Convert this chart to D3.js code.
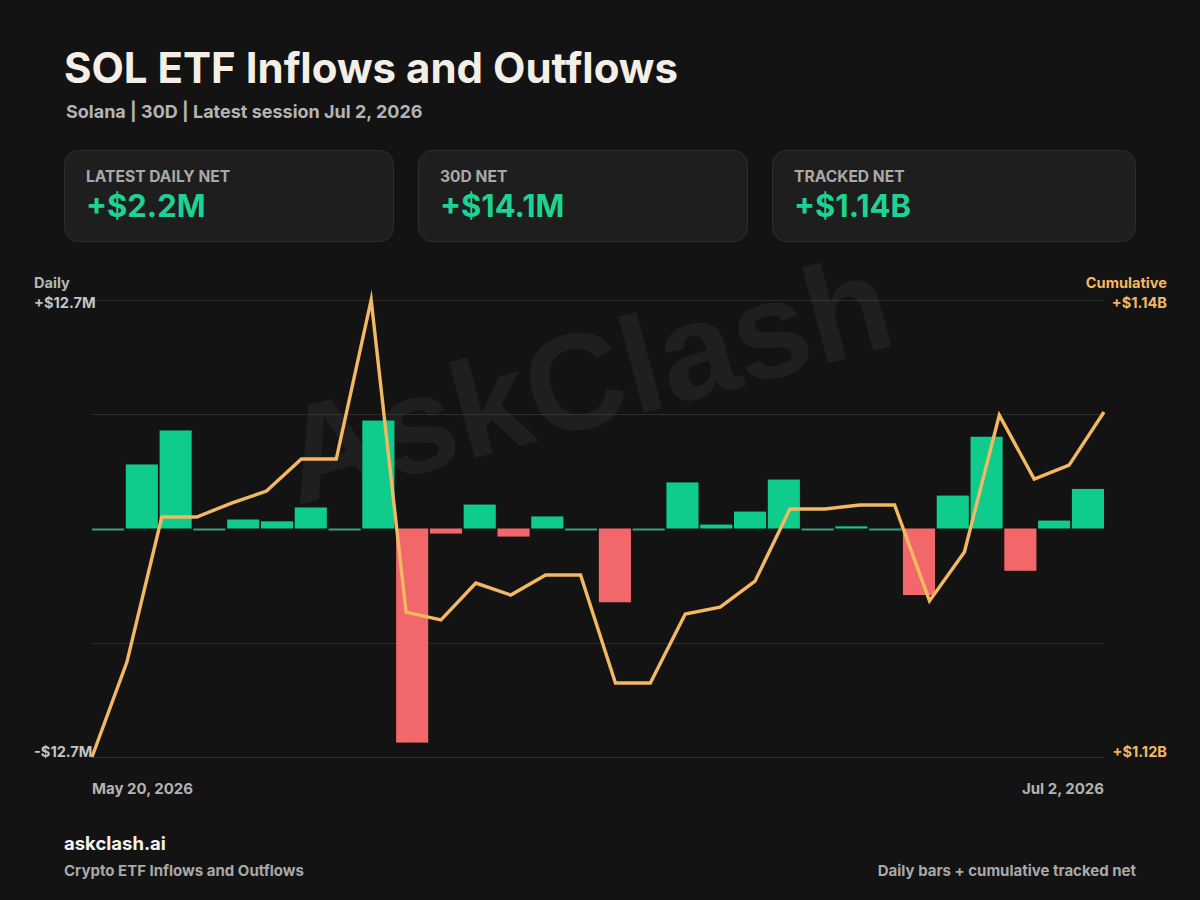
<!DOCTYPE html>
<html>
<head>
<meta charset="utf-8">
<script src="https://cdn.jsdelivr.net/npm/d3@7"></script>
<style>
  html, body { margin: 0; padding: 0; background: #131313; }
  svg { display: block; }
  text { font-family: Inter, "Noto Sans", sans-serif; font-weight: 700; }
</style>
</head>
<body>
<svg id="chart" width="1200" height="900"></svg>
<script>
// ---- Data ----
const sessions = [
  "2026-05-20","2026-05-21","2026-05-22","2026-05-26","2026-05-27","2026-05-28","2026-05-29",
  "2026-06-01","2026-06-02","2026-06-03","2026-06-04","2026-06-05",
  "2026-06-08","2026-06-09","2026-06-10","2026-06-11","2026-06-12",
  "2026-06-15","2026-06-16","2026-06-17","2026-06-18",
  "2026-06-22","2026-06-23","2026-06-24","2026-06-25","2026-06-26",
  "2026-06-29","2026-06-30","2026-07-01","2026-07-02"
];
// daily net flow, $M
const dailyNet = [
  0.05, 3.56, 5.45, 0.05, 0.5, 0.4, 1.17, 0.05, 6.0, -11.9,
  -0.28, 1.33, -0.45, 0.67, 0.05, -4.1, 0.05, 2.56, 0.22, 0.94,
  2.72, -0.05, 0.12, 0.05, -3.7, 1.83, 5.1, -2.35, 0.44, 2.2
];
// cumulative tracked net, $M
const cumulativeNet = [
  1123.0, 1126.55, 1131.98, 1131.98, 1132.5, 1132.95, 1134.15, 1134.15, 1140.1, 1128.42,
  1128.13, 1129.51, 1129.06, 1129.81, 1129.81, 1125.77, 1125.77, 1128.35, 1128.61, 1129.58,
  1132.28, 1132.28, 1132.43, 1132.43, 1128.84, 1130.67, 1135.79, 1133.4, 1133.92, 1135.91
];
const dailyDomain = [-12.7, 12.7];
const dailyTickLabels = ["+$12.7M", "-$12.7M"];
const cumTickLabels = ["+$1.14B", "+$1.12B"];
const xTickLabels = ["May 20, 2026", "Jul 2, 2026"];
const cardLabels = ["LATEST DAILY NET", "30D NET", "TRACKED NET"];
const cardValues = ["+$2.2M", "+$14.1M", "+$1.14B"];

// ---- Layout ----
const svg = d3.select("#chart");
const W = 1200, H = 900;
const plot = { left: 92, right: 1104, top: 300, bottom: 757 };

svg.append("rect").attr("width", W).attr("height", H).attr("fill", "#131313");

// Title & subtitle
svg.append("text").attr("x", 64).attr("y", 83)
  .attr("font-size", 42).attr("fill", "#f4efe6")
  .text("SOL ETF Inflows and Outflows");
svg.append("text").attr("x", 66).attr("y", 118)
  .attr("font-size", 18).attr("fill", "#b4b4b4")
  .text("Solana | 30D | Latest session Jul 2, 2026");

// Cards
const cards = [
  { x: 64, w: 330 }, { x: 418, w: 330 }, { x: 772, w: 364 }
];
const cg = svg.append("g");
cards.forEach((c, i) => {
  cg.append("rect").attr("x", c.x + 0.5).attr("y", 150.5).attr("width", c.w - 1).attr("height", 91)
    .attr("rx", 14).attr("fill", "#1e1e1e").attr("stroke", "#2e2e2e").attr("stroke-width", 1);
  cg.append("text").attr("x", c.x + 22).attr("y", 182)
    .attr("font-size", 15.6).attr("fill", "#a9a9a9").text(cardLabels[i]);
  cg.append("text").attr("x", c.x + 22).attr("y", 217)
    .attr("font-size", 31).attr("fill", "#1ed391").text(cardValues[i]);
});

// Scales
const xBand = d3.scaleBand().domain(sessions).range([plot.left, plot.right]).paddingInner(0.05).paddingOuter(0);
const xPoint = d3.scalePoint().domain(sessions).range([plot.left, plot.right]);
const yDaily = d3.scaleLinear().domain(dailyDomain).range([plot.bottom, plot.top]);
const yCum = d3.scaleLinear().domain(d3.extent(cumulativeNet)).range([plot.bottom, plot.top]);

// Gridlines
const gridLevels = [dailyDomain[1], dailyDomain[1] / 2, dailyDomain[0] / 2, dailyDomain[0]];
svg.append("g").selectAll("line").data(gridLevels).join("line")
  .attr("x1", plot.left).attr("x2", plot.right)
  .attr("y1", d => Math.round(yDaily(d)) + 0.5).attr("y2", d => Math.round(yDaily(d)) + 0.5)
  .attr("stroke", "#2c2c2c").attr("stroke-width", 1);

// Watermark
svg.append("text")
  .attr("transform", "translate(598,425) rotate(-15)")
  .attr("text-anchor", "middle")
  .attr("font-size", 137)
  .attr("fill", "#ffffff").attr("fill-opacity", 0.05)
  .style("font-family", "'Liberation Sans', Arial, sans-serif")
  .text("AskClash");

// Bars
const y0 = yDaily(0);
svg.append("g").selectAll("rect").data(sessions).join("rect")
  .attr("x", d => xBand(d))
  .attr("width", xBand.bandwidth())
  .attr("y", (d, i) => {
    const v = dailyNet[i];
    const h = Math.abs(yDaily(v) - y0);
    if (h < 2) return y0;
    return v >= 0 ? yDaily(v) : y0;
  })
  .attr("height", (d, i) => Math.max(2, Math.abs(yDaily(dailyNet[i]) - y0)))
  .attr("fill", (d, i) => {
    const v = dailyNet[i];
    if (Math.abs(yDaily(v) - y0) < 2) return "#3a9e83";
    return v >= 0 ? "#0fcb8c" : "#f2686a";
  });

// Cumulative line
const line = d3.line().x((d, i) => xPoint(sessions[i])).y(d => yCum(d));
svg.append("path").datum(cumulativeNet)
  .attr("d", line).attr("fill", "none")
  .attr("stroke", "#f2b862").attr("stroke-width", 3.4)
  .attr("stroke-linejoin", "miter").attr("stroke-miterlimit", 10);

// Axis labels
const axisFs = 14.6;
svg.append("text").attr("x", 34).attr("y", 288).attr("font-size", axisFs).attr("fill", "#b5b5b5").text("Daily");
svg.append("text").attr("x", 34).attr("y", 308).attr("font-size", axisFs).attr("fill", "#c4c4c4").text(dailyTickLabels[0]);
svg.append("text").attr("x", 34).attr("y", 757).attr("font-size", axisFs).attr("fill", "#c4c4c4").text(dailyTickLabels[1]);

svg.append("text").attr("x", 1167).attr("y", 288).attr("text-anchor", "end").attr("font-size", axisFs).attr("fill", "#f2b862").text("Cumulative");
svg.append("text").attr("x", 1167).attr("y", 308).attr("text-anchor", "end").attr("font-size", axisFs).attr("fill", "#f2b862").text(cumTickLabels[0]);
svg.append("text").attr("x", 1167).attr("y", 757).attr("text-anchor", "end").attr("font-size", axisFs).attr("fill", "#f2b862").text(cumTickLabels[1]);

svg.append("text").attr("x", xPoint(sessions[0])).attr("y", 794).attr("font-size", 15).attr("fill", "#b3b3b3").text(xTickLabels[0]);
svg.append("text").attr("x", xPoint(sessions[sessions.length - 1])).attr("y", 794).attr("text-anchor", "end").attr("font-size", 15).attr("fill", "#b3b3b3").text(xTickLabels[1]);

// Footer
svg.append("text").attr("x", 64).attr("y", 850).attr("font-size", 18.5).attr("fill", "#f5f2ec").text("askclash.ai");
svg.append("text").attr("x", 64).attr("y", 876).attr("font-size", 15).attr("fill", "#a9a9a9").text("Crypto ETF Inflows and Outflows");
svg.append("text").attr("x", 1136).attr("y", 876).attr("text-anchor", "end").attr("font-size", 15).attr("fill", "#a9a9a9").text("Daily bars + cumulative tracked net");
</script>
</body>
</html>
